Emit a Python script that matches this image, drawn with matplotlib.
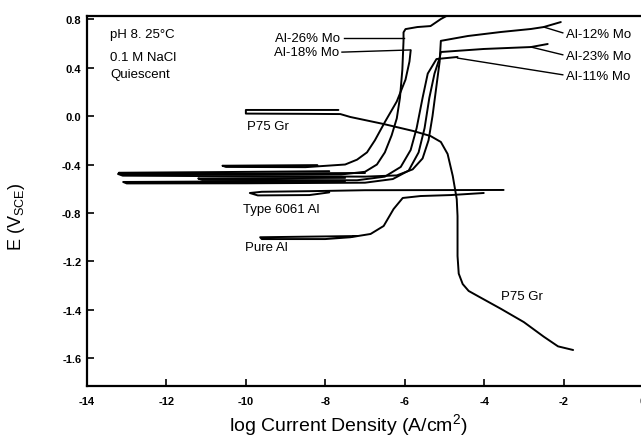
import matplotlib
matplotlib.use("Agg")
import matplotlib.pyplot as plt

plt.rcParams['font.family'] = ['Liberation Sans', 'DejaVu Sans']
plt.rcParams['axes.unicode_minus'] = False

# ---- data (log current density, potential on the drawn scale) ----
al26_x = [-7.9, -10.5, -13.2, -13.1, -10.0, -7.6, -7.0, -6.7, -6.5, -6.33, -6.2, -6.12, -6.06, -6.03, -6.03, -5.98, -5.68, -5.35, -5.09, -4.95, -4.2]
al26_y = [-0.455, -0.462, -0.468, -0.48, -0.485, -0.482, -0.46, -0.40, -0.30, -0.16, -0.02, 0.15, 0.38, 0.62, 0.69, 0.717, 0.734, 0.742, 0.80, 0.825, 0.825]

al18_x = [-8.2, -10.59, -10.5, -8.5, -7.5, -7.2, -6.95, -6.75, -6.5, -6.2, -5.98, -5.88, -5.85]
al18_y = [-0.405, -0.41, -0.42, -0.422, -0.40, -0.36, -0.30, -0.20, -0.05, 0.12, 0.30, 0.45, 0.54]

al12_x = [-7.0, -10.5, -13.22, -13.1, -10.0, -7.0, -6.2, -5.8, -5.55, -5.4, -5.3, -5.2, -5.12, -5.09, -4.41, -3.58, -2.82, -2.50, -2.07]
al12_y = [-0.47, -0.475, -0.478, -0.492, -0.497, -0.50, -0.49, -0.44, -0.35, -0.20, 0.0, 0.25, 0.45, 0.62, 0.66, 0.693, 0.718, 0.734, 0.775]

al23_x = [-7.5, -10.5, -13.09, -13.0, -10.0, -7.0, -6.3, -5.9, -5.65, -5.5, -5.38, -5.25, -5.12, -5.09, -4.01, -2.82, -2.40]
al23_y = [-0.535, -0.54, -0.544, -0.556, -0.555, -0.55, -0.52, -0.45, -0.30, -0.10, 0.15, 0.35, 0.48, 0.528, 0.553, 0.569, 0.594]

al11_x = [-7.5, -11.2, -11.1, -7.2, -6.5, -6.1, -5.85, -5.7, -5.55, -5.42, -5.2, -4.67]
al11_y = [-0.51, -0.515, -0.527, -0.53, -0.50, -0.42, -0.28, -0.10, 0.15, 0.35, 0.47, 0.487]

p75_x = [-7.67, -10.0, -10.0, -8.5, -7.62, -7.37, -6.53, -5.78, -5.35, -5.09, -4.92, -4.79, -4.69, -4.67, -4.67, -4.64, -4.54, -4.39, -4.16, -3.58, -3.0, -2.50, -2.14, -1.76]
p75_y = [0.05, 0.05, 0.02, 0.018, 0.016, -0.008, -0.066, -0.124, -0.165, -0.214, -0.313, -0.495, -0.685, -0.825, -1.155, -1.30, -1.386, -1.443, -1.485, -1.59, -1.70, -1.82, -1.90, -1.93]

t6061_x = [-3.51, -7.0, -8.4, -9.6, -9.9, -9.7, -8.4, -7.9]
t6061_y = [-0.61, -0.612, -0.62, -0.625, -0.635, -0.655, -0.652, -0.63]

pure_x = [-7.2, -9.64, -9.6, -8.0, -7.37, -6.86, -6.53, -6.28, -6.05, -5.60, -4.84, -4.01]
pure_y = [-0.99, -1.0, -1.015, -1.015, -1.0, -0.973, -0.907, -0.767, -0.676, -0.66, -0.652, -0.635]

xticks = [-14, -12, -10, -8, -6, -4, -2, 0]
xtick_labels = ['-14', '-12', '-10', '-8', '-6', '-4', '-2', '0']
yticks = [0.8, 0.4, 0.0, -0.4, -0.8, -1.2, -1.6, -2.0]
ytick_labels = ['0.8', '0.4', '0.0', '-0.4', '-0.8', '-1.2', '-1.4', '-1.6']

conditions = ['pH 8. 25°C', '0.1 M NaCl', 'Quiescent']
cond_y = [0.676, 0.487, 0.347]

# ---- figure ----
W, H = 641, 439
fig = plt.figure(figsize=(W / 100, H / 100), dpi=100)
ax = fig.add_axes([87 / W, 1 - 387 / H, 556 / W, 370 / H])
ax.set_xlim(-14, 0)
ax.set_ylim(-2.227, 0.825)

lw = 1.4
for xs, ys in [(al26_x, al26_y), (al18_x, al18_y), (al12_x, al12_y), (al23_x, al23_y),
               (al11_x, al11_y), (p75_x, p75_y), (t6061_x, t6061_y), (pure_x, pure_y)]:
    ax.plot(xs, ys, color='black', lw=lw, solid_capstyle='round', solid_joinstyle='round')

fs = 9.5
for txt, yy in zip(conditions, cond_y):
    ax.text(-13.42, yy, txt, fontsize=fs, ha='left', va='center')

ax.text(-9.96, -0.08, 'P75 Gr', fontsize=fs, ha='left', va='center')
ax.text(-3.58, -1.485, 'P75 Gr', fontsize=fs, ha='left', va='center')
ax.text(-10.06, -0.767, 'Type 6061 Al', fontsize=fs, ha='left', va='center')
ax.text(-10.01, -1.08, 'Pure Al', fontsize=fs, ha='left', va='center')

# labels with leader lines
left_labels = [('Al-26% Mo', -7.62, 0.643, -6.03, 0.643),
               ('Al-18% Mo', -7.66, 0.527, -5.85, 0.545)]
for txt, tx, ty, px, py in left_labels:
    ax.text(tx, ty, txt, fontsize=fs, ha='right', va='center')
    ax.plot([tx + 0.08, px], [ty, py], color='black', lw=1.0)

right_labels = [('Al-12% Mo', -1.94, 0.676, -2.50, 0.734),
                ('Al-23% Mo', -1.94, 0.495, -2.82, 0.569),
                ('Al-11% Mo', -1.94, 0.33, -4.67, 0.478)]
for txt, tx, ty, px, py in right_labels:
    ax.text(tx, ty, txt, fontsize=fs, ha='left', va='center', clip_on=False)
    ax.plot([px, tx - 0.08], [py, ty + 0.01], color='black', lw=1.0)

ax.set_xticks(xticks)
ax.set_xticklabels(xtick_labels, fontsize=8, fontweight='bold')
ax.set_yticks(yticks)
ax.set_yticklabels(ytick_labels, fontsize=8, fontweight='bold')
ax.tick_params(direction='in', length=5, width=1.2)
ax.tick_params(axis='x', pad=7)
ax.tick_params(axis='y', pad=4)
for s in ax.spines.values():
    s.set_linewidth(1.6)

ax.set_xlabel('log Current Density (A/cm$^{\\mathregular{2}}$)', fontsize=14)
ax.xaxis.set_label_coords(0.47, -0.068)
ax.set_ylabel('E (V$_{\\mathregular{SCE}}$)', fontsize=13)
ax.yaxis.set_label_coords(-0.108, 0.46)

fig.savefig('out.png', dpi=100)
